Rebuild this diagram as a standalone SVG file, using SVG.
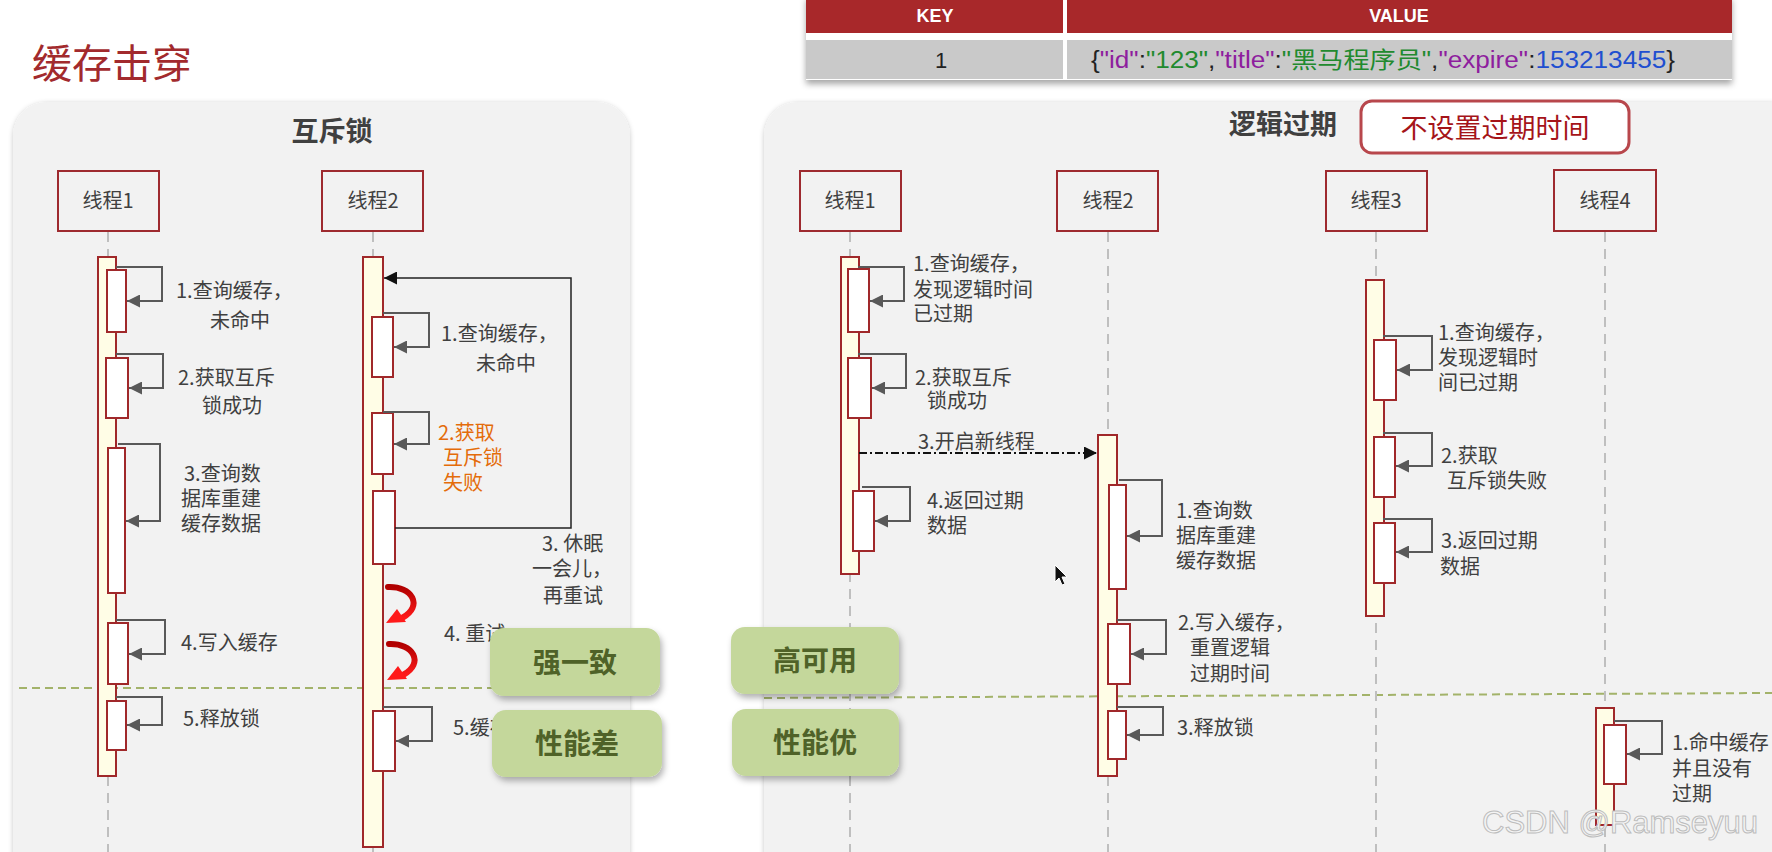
<svg xmlns="http://www.w3.org/2000/svg" width="1772" height="852" viewBox="0 0 1772 852">
<defs>
<style>
.t{font-family:"Noto Sans CJK SC","Noto Sans",sans-serif;}
.lbl{font-family:"Noto Sans CJK SC","Noto Sans",sans-serif;font-size:20px;fill:#404040;}
.org{fill:#e46c0a;}
.hd{font-family:"Noto Sans CJK SC","Noto Sans",sans-serif;font-size:27px;font-weight:bold;fill:#404040;text-anchor:middle;}
.tb{fill:#f2f2f2;stroke:#9e2a2f;stroke-width:2;}
.tbt{font-family:"Noto Sans CJK SC","Noto Sans",sans-serif;font-size:20px;fill:#404040;text-anchor:middle;}
.life{stroke:#bfbfbf;stroke-width:2;stroke-dasharray:10 7;fill:none;}
.bar{fill:#fffde6;stroke:#a0282a;stroke-width:2;}
.act{fill:#ffffff;stroke:#a0282a;stroke-width:2;}
.self{fill:none;stroke:#595959;stroke-width:2;marker-end:url(#ah);}
.blk{fill:none;stroke:#222;stroke-width:1.5;marker-end:url(#ahb);}
.gbox{fill:#c4d79b;filter:url(#gsh);}
.gt{font-family:"Noto Sans CJK SC","Noto Sans",sans-serif;font-size:28px;font-weight:bold;fill:#4f6228;text-anchor:middle;}
.sep{stroke:#a3b36a;stroke-width:2;stroke-dasharray:8 5;fill:none;}
.redarr{fill:none;stroke:url(#rg);stroke-width:6;stroke-linecap:round;}
</style>
<marker id="ah" viewBox="0 0 10 10" refX="10" refY="5" markerWidth="13" markerHeight="13" markerUnits="userSpaceOnUse" orient="auto"><path d="M0,0 L10,5 L0,10 z" fill="#595959"/></marker>
<marker id="ahb" viewBox="0 0 10 10" refX="10" refY="5" markerWidth="13" markerHeight="13" markerUnits="userSpaceOnUse" orient="auto"><path d="M0,0 L10,5 L0,10 z" fill="#111"/></marker>
<filter id="psh" x="-5%" y="-5%" width="110%" height="110%"><feDropShadow dx="0" dy="1" stdDeviation="2.5" flood-color="#000" flood-opacity="0.22"/></filter>
<filter id="gsh" x="-10%" y="-10%" width="125%" height="140%"><feDropShadow dx="2" dy="4" stdDeviation="3" flood-color="#000" flood-opacity="0.3"/></filter>
<filter id="tsh" x="-5%" y="-20%" width="110%" height="150%"><feDropShadow dx="0" dy="4" stdDeviation="3" flood-color="#000" flood-opacity="0.35"/></filter>
<linearGradient id="rg" x1="0" y1="0" x2="0" y2="1"><stop offset="0" stop-color="#b00000"/><stop offset="1" stop-color="#ff1a1a"/></linearGradient>
</defs>
<rect width="1772" height="852" fill="#ffffff"/>

<text id="title" class="t" x="32" y="78" font-size="40" fill="#a22a2d">缓存击穿</text>

<g id="kv-table">
<rect x="806" y="-4" width="926" height="84" fill="#ffffff" filter="url(#tsh)"/>
<rect x="806" y="-4" width="257" height="37" fill="#a8282a"/>
<rect x="1067" y="-4" width="665" height="37" fill="#a8282a"/>
<rect x="806" y="40" width="257" height="39" fill="#c9c9c9"/>
<rect x="1067" y="40" width="665" height="39" fill="#c9c9c9"/>
<text x="935" y="22" font-family="Liberation Sans, sans-serif" font-size="18" font-weight="bold" fill="#ffffff" text-anchor="middle">KEY</text>
<text x="1399" y="22" font-family="Liberation Sans, sans-serif" font-size="18" font-weight="bold" fill="#ffffff" text-anchor="middle">VALUE</text>
<text x="935" y="68" font-family="Liberation Sans, sans-serif" font-size="22" fill="#222">1</text>
<text x="1091" y="68" font-family="Liberation Sans, 'Noto Sans CJK SC', sans-serif" font-size="23" textLength="584" lengthAdjust="spacingAndGlyphs" fill="#222">{<tspan fill="#8e1e9e">"id"</tspan>:<tspan fill="#218a2e">"123"</tspan>,<tspan fill="#8e1e9e">"title"</tspan>:<tspan fill="#218a2e">"黑马程序员"</tspan>,<tspan fill="#8e1e9e">"expire"</tspan>:<tspan fill="#1f4fd0">153213455</tspan>}</text>
</g>

<g id="panel-mutex">
<rect x="13" y="102" width="617" height="800" rx="34" fill="#f2f2f2" filter="url(#psh)"/>
<text class="hd" x="332" y="141">互斥锁</text>
</g>
<g id="panel-logic">
<rect x="764" y="102" width="1040" height="800" rx="34" fill="#f2f2f2" filter="url(#psh)"/>
<text class="hd" x="1283" y="134">逻辑过期</text>
</g>
<g id="no-expire-tag">
<rect x="1361" y="101" width="268" height="52" rx="11" fill="#ffffff" stroke="#b8474c" stroke-width="3"/>
<text class="t" x="1495" y="138" font-size="27" fill="#a51419" text-anchor="middle">不设置过期时间</text>
</g>

<g id="separators">
<line class="sep" x1="19" y1="688" x2="626" y2="688"/>
<line class="sep" x1="764" y1="698" x2="1772" y2="693"/>
</g>

<g id="lifelines">
<line class="life" x1="108" y1="232" x2="108" y2="852"/>
<line class="life" x1="373" y1="232" x2="373" y2="852"/>
<line class="life" x1="850" y1="232" x2="850" y2="852"/>
<line class="life" x1="1108" y1="232" x2="1108" y2="852"/>
<line class="life" x1="1376" y1="232" x2="1376" y2="852"/>
<line class="life" x1="1605" y1="232" x2="1605" y2="852"/>
</g>

<g id="m-thread1">
<rect class="tb" x="58" y="171" width="101" height="60"/>
<text class="tbt" x="108" y="208">线程1</text>
<rect class="bar" x="98" y="257" width="18" height="519"/>
<rect class="act" x="107" y="270" width="19" height="62"/>
<rect class="act" x="106" y="358" width="22" height="60"/>
<rect class="act" x="108" y="448" width="17" height="145"/>
<rect class="act" x="108" y="623" width="20" height="61"/>
<rect class="act" x="107" y="701" width="19" height="49"/>
<text class="lbl"><tspan x="176" y="298">1.查询缓存，</tspan><tspan x="210" y="328">未命中</tspan></text>
<text class="lbl"><tspan x="178" y="385">2.获取互斥</tspan><tspan x="202" y="413">锁成功</tspan></text>
<text class="lbl"><tspan x="184" y="481">3.查询数</tspan><tspan x="181" y="506">据库重建</tspan><tspan x="181" y="531">缓存数据</tspan></text>
<text class="lbl" x="181" y="650">4.写入缓存</text>
<text class="lbl" x="183" y="726">5.释放锁</text>
</g>

<g id="m-thread2">
<rect class="tb" x="322" y="171" width="101" height="60"/>
<text class="tbt" x="373" y="208">线程2</text>
<rect class="bar" x="363" y="257" width="20" height="590"/>
<rect class="act" x="372" y="317" width="21" height="60"/>
<rect class="act" x="372" y="413" width="21" height="61"/>
<rect class="act" x="373" y="491" width="22" height="73"/>
<rect class="act" x="373" y="711" width="22" height="60"/>
<text class="lbl"><tspan x="441" y="341">1.查询缓存，</tspan><tspan x="476" y="371">未命中</tspan></text>
<text class="lbl org"><tspan x="438" y="440">2.获取</tspan><tspan x="443" y="465">互斥锁</tspan><tspan x="443" y="490">失败</tspan></text>
<text class="lbl"><tspan x="542" y="551">3. 休眠</tspan><tspan x="532" y="576">一会儿，</tspan><tspan x="543" y="603">再重试</tspan></text>
<text class="lbl" x="444" y="641">4. 重试</text>
<text class="lbl" x="453" y="735">5.缓存</text>
</g>

<g id="l-thread1">
<rect class="tb" x="800" y="171" width="101" height="60"/>
<text class="tbt" x="850" y="208">线程1</text>
<rect class="bar" x="841" y="257" width="18" height="317"/>
<rect class="act" x="848" y="269" width="21" height="63"/>
<rect class="act" x="848" y="358" width="23" height="60"/>
<rect class="act" x="853" y="491" width="21" height="60"/>
<text class="lbl"><tspan x="913" y="271">1.查询缓存，</tspan><tspan x="913" y="297">发现逻辑时间</tspan><tspan x="913" y="321">已过期</tspan></text>
<text class="lbl"><tspan x="915" y="385">2.获取互斥</tspan><tspan x="927" y="408">锁成功</tspan></text>
<text class="lbl" x="918" y="449">3.开启新线程</text>
<text class="lbl"><tspan x="927" y="508">4.返回过期</tspan><tspan x="927" y="533">数据</tspan></text>
</g>

<g id="l-thread2">
<rect class="tb" x="1057" y="171" width="101" height="60"/>
<text class="tbt" x="1108" y="208">线程2</text>
<rect class="bar" x="1098" y="435" width="19" height="341"/>
<rect class="act" x="1109" y="485" width="17" height="104"/>
<rect class="act" x="1108" y="624" width="22" height="60"/>
<rect class="act" x="1108" y="711" width="18" height="48"/>
<text class="lbl"><tspan x="1176" y="518">1.查询数</tspan><tspan x="1176" y="543">据库重建</tspan><tspan x="1176" y="568">缓存数据</tspan></text>
<text class="lbl"><tspan x="1178" y="630">2.写入缓存，</tspan><tspan x="1190" y="655">重置逻辑</tspan><tspan x="1190" y="681">过期时间</tspan></text>
<text class="lbl" x="1177" y="735">3.释放锁</text>
</g>

<g id="l-thread3">
<rect class="tb" x="1326" y="171" width="101" height="60"/>
<text class="tbt" x="1376" y="208">线程3</text>
<rect class="bar" x="1366" y="280" width="18" height="336"/>
<rect class="act" x="1374" y="340" width="22" height="60"/>
<rect class="act" x="1374" y="437" width="21" height="60"/>
<rect class="act" x="1374" y="523" width="21" height="60"/>
<text class="lbl"><tspan x="1438" y="340">1.查询缓存，</tspan><tspan x="1438" y="365">发现逻辑时</tspan><tspan x="1438" y="390">间已过期</tspan></text>
<text class="lbl"><tspan x="1441" y="463">2.获取</tspan><tspan x="1447" y="488">互斥锁失败</tspan></text>
<text class="lbl"><tspan x="1441" y="548">3.返回过期</tspan><tspan x="1440" y="574">数据</tspan></text>
</g>

<g id="l-thread4">
<rect class="tb" x="1554" y="170" width="102" height="61"/>
<text class="tbt" x="1605" y="208">线程4</text>
<rect class="bar" x="1596" y="708" width="18" height="117"/>
<rect class="act" x="1604" y="725" width="22" height="59"/>
<text class="lbl"><tspan x="1672" y="750">1.命中缓存</tspan><tspan x="1672" y="776">并且没有</tspan><tspan x="1672" y="801">过期</tspan></text>
</g>

<g id="connectors">
<path class="self" d="M116,267 H162 V301 H127"/>
<path class="self" d="M116,354 H163 V388 H129"/>
<path class="self" d="M118,444 H160 V521 H126"/>
<path class="self" d="M116,620 H165 V654 H129"/>
<path class="self" d="M116,697 H162 V725 H127"/>
<path class="self" d="M383,313 H429 V347 H394"/>
<path class="self" d="M383,412 H429 V444 H394"/>
<path class="blk" d="M395,528 H571 V278 H384"/>
<path class="self" d="M383,707 H432 V741 H396"/>
<path class="redarr" d="M388,587 C412,586 424,606 402,618"/>
<polygon points="386,623 397,609 406,622" fill="#ff1a1a"/>
<path class="redarr" d="M389,644 C413,643 425,663 403,675"/>
<polygon points="387,680 398,666 407,679" fill="#ff1a1a"/>
<path class="self" d="M858,267 H904 V301 H870"/>
<path class="self" d="M858,354 H906 V388 H872"/>
<path class="self" d="M862,487 H910 V521 H875"/>
<path d="M859,453 H1097" fill="none" stroke="#111" stroke-width="2" stroke-dasharray="8 3 2 3" marker-end="url(#ahb)"/>
<path class="self" d="M1119,480 H1162 V536 H1127"/>
<path class="self" d="M1117,620 H1166 V654 H1131"/>
<path class="self" d="M1117,707 H1163 V735 H1127"/>
<path class="self" d="M1383,336 H1432 V370 H1397"/>
<path class="self" d="M1383,433 H1432 V466 H1396"/>
<path class="self" d="M1383,519 H1432 V552 H1396"/>
<path class="self" d="M1614,721 H1662 V754 H1627"/>
</g>

<g id="tag-strong">
<rect class="gbox" x="490" y="628" width="170" height="68" rx="14"/>
<text class="gt" x="575" y="673">强一致</text>
</g>
<g id="tag-poor">
<rect class="gbox" x="492" y="710" width="170" height="67" rx="14"/>
<text class="gt" x="577" y="754">性能差</text>
</g>
<g id="tag-avail">
<rect class="gbox" x="731" y="627" width="168" height="67" rx="14"/>
<text class="gt" x="815" y="671">高可用</text>
</g>
<g id="tag-good">
<rect class="gbox" x="732" y="709" width="167" height="67" rx="14"/>
<text class="gt" x="815" y="753">性能优</text>
</g>

<path id="cursor" d="M1055,565 L1055,582 L1059,578 L1062,585 L1065,584 L1062,577 L1067,577 Z" fill="#111" stroke="#fff" stroke-width="1"/>
<text id="watermark" x="1482" y="833" font-family="Liberation Sans, sans-serif" font-size="31" fill="#f4f4f4" stroke="#bdbdbd" stroke-width="1">CSDN @Ramseyuu</text>
</svg>
